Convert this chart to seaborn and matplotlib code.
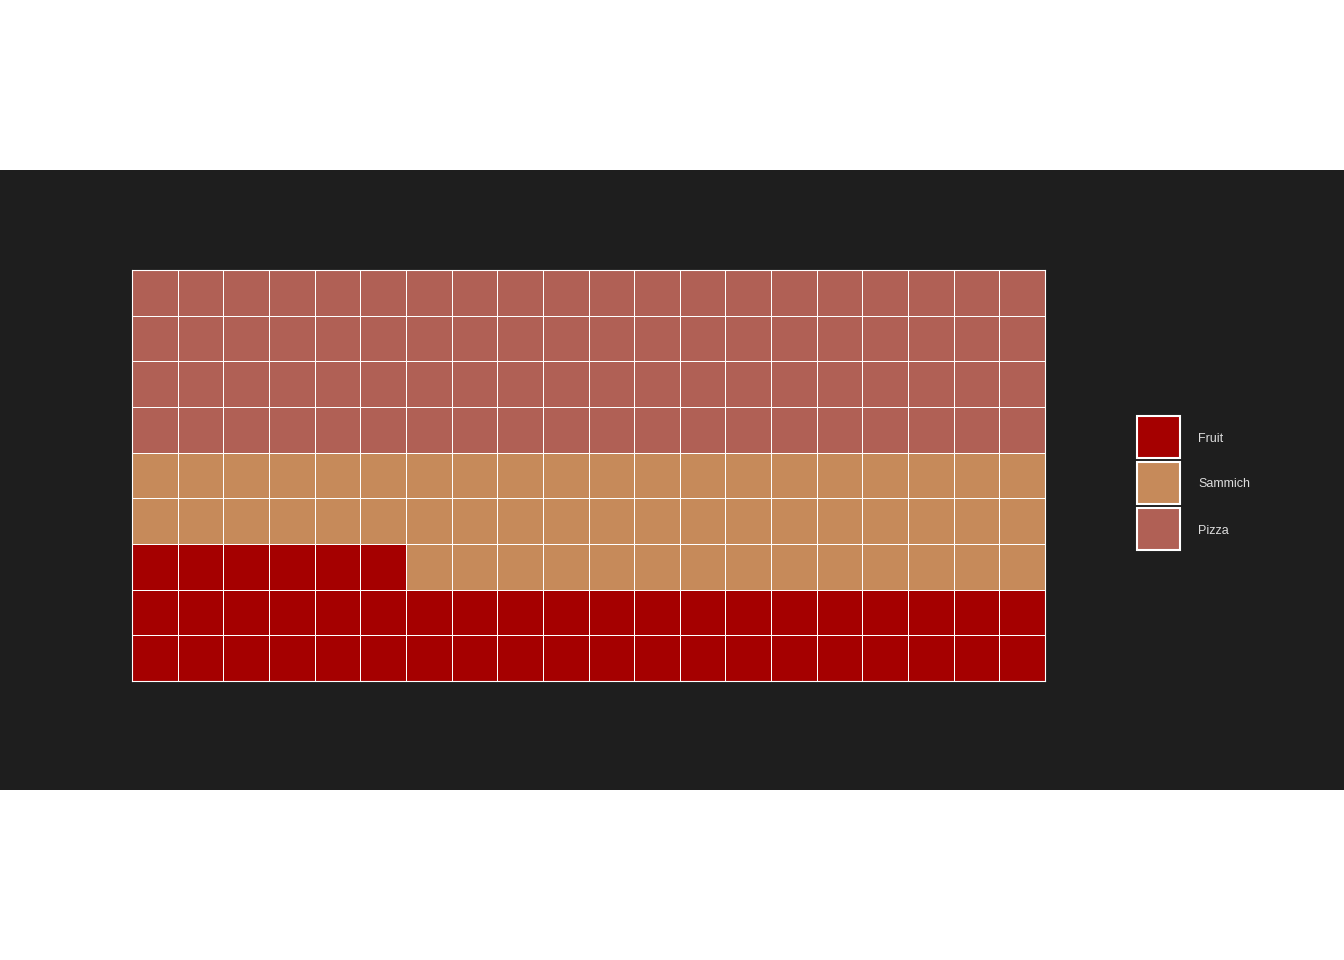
import matplotlib
matplotlib.use("Agg")
import matplotlib.pyplot as plt
from matplotlib.colors import ListedColormap
from matplotlib.patches import Rectangle
import seaborn as sns
import numpy as np

# datos del waffle
categories = ['Fruit', 'Sammich', 'Pizza']
counts = [46, 54, 80]
colors = ['#a50000', '#c68a5a', '#b06055']
n_rows = 9
n_cols = 20

# se llena por filas desde abajo a la izquierda
cells = np.repeat(np.arange(len(categories)), counts).reshape(n_rows, n_cols)[::-1]

fig = plt.figure(figsize=(13.44, 9.6), dpi=100, facecolor='white')
# banda oscura del panel
fig.add_artist(Rectangle((0, 1 - 790 / 960), 1, 620 / 960, transform=fig.transFigure,
                         facecolor='#1e1e1e', edgecolor='none', zorder=0))

ax = fig.add_axes([132 / 1344, 1 - 681 / 960, 913 / 1344, 411 / 960])
sns.heatmap(cells, ax=ax, cmap=ListedColormap(colors), vmin=-0.5, vmax=2.5,
            linewidths=0.6, linecolor='white', cbar=False, square=False,
            xticklabels=False, yticklabels=False)
for s in ax.spines.values():
    s.set_visible(True)
    s.set_color('white')
    s.set_linewidth(0.8)

# leyenda a mano
box_w, box_h = 43 / 1344, 42 / 960
for i, (lab, col) in enumerate(zip(categories, colors)):
    cy = 437 + 46 * i
    fig.add_artist(Rectangle((1137 / 1344, 1 - (cy + 21) / 960), box_w, box_h,
                             transform=fig.transFigure, facecolor=col,
                             edgecolor='white', linewidth=1.5))
    fig.text(1198 / 1344, 1 - (cy + 1.5) / 960, lab, color='#dddddd', fontsize=9,
             va='center', ha='left', family=['Liberation Sans', 'DejaVu Sans'])

fig.savefig('out.png', dpi=100, facecolor='white')
